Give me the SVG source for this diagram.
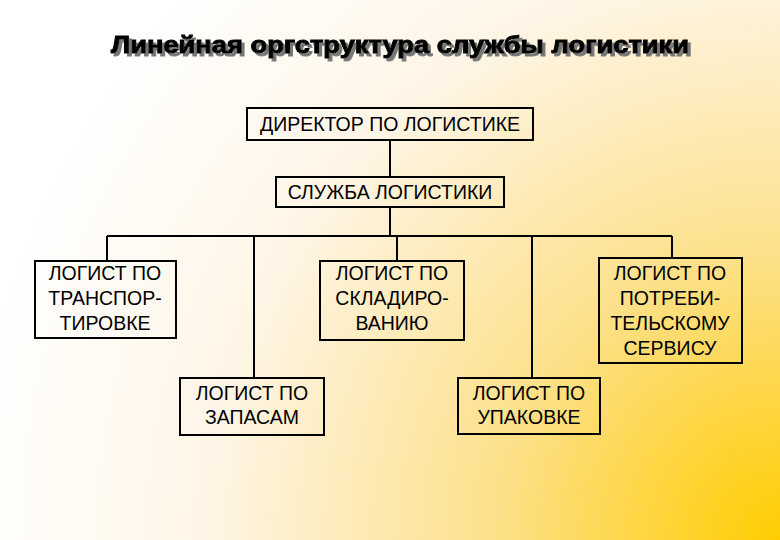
<svg xmlns="http://www.w3.org/2000/svg" width="780" height="540" viewBox="0 0 780 540">
<defs>
<radialGradient id="bg" cx="780" cy="540" r="820" gradientUnits="userSpaceOnUse">
<stop offset="0" stop-color="#FFCC00"/>
<stop offset="0.35" stop-color="#FCE08A"/>
<stop offset="0.7" stop-color="#FEF5E6"/>
<stop offset="1" stop-color="#FFFFFF"/>
</radialGradient>
<filter id="sh" x="-5%" y="-30%" width="110%" height="160%">
<feFlood flood-color="#777"/>
<feComposite in2="SourceAlpha" operator="in"/>
<feOffset dx="3" dy="3" result="s"/>
<feMerge><feMergeNode in="s"/><feMergeNode in="SourceGraphic"/></feMerge>
</filter>
<style>
.b{fill:none;stroke:#000;stroke-width:2}
.t{font-family:"Liberation Sans",Arial,sans-serif;font-size:19.5px;text-anchor:middle;fill:#000}
.c{fill:none;stroke:#000;stroke-width:2}
.h{font-family:"Liberation Sans",Arial,sans-serif;font-size:24px;font-weight:bold;text-anchor:middle;stroke:#000;stroke-width:1}
</style>
</defs>
<rect width="780" height="540" fill="url(#bg)"/>
<text class="h" x="400" y="53" fill="#000" filter="url(#sh)" textLength="578" lengthAdjust="spacingAndGlyphs">Линейная оргструктура службы логистики</text>
<g id="connectors">
<path class="c" d="M390 140V177M390 207V236M107 236H672M107 236V261M254 236V378M397 236V261M532 236V378M672 236V258"/>
</g>
<g id="director"><rect class="b" x="247" y="108" width="286" height="32"/><text class="t" x="390" y="131">ДИРЕКТОР ПО ЛОГИСТИКЕ</text></g>
<g id="service"><rect class="b" x="276" y="177" width="228" height="30"/><text class="t" x="390" y="199">СЛУЖБА ЛОГИСТИКИ</text></g>
<g id="transport"><rect class="b" x="35" y="261" width="141" height="77"/><text class="t" x="105" y="280">ЛОГИСТ ПО</text><text class="t" x="105" y="305">ТРАНСПОР-</text><text class="t" x="105" y="330">ТИРОВКЕ</text></g>
<g id="warehouse"><rect class="b" x="320" y="261" width="144" height="79"/><text class="t" x="392" y="280">ЛОГИСТ ПО</text><text class="t" x="392" y="305">СКЛАДИРО-</text><text class="t" x="392" y="330">ВАНИЮ</text></g>
<g id="customer"><rect class="b" x="599" y="258" width="143" height="105"/><text class="t" x="670" y="280">ЛОГИСТ ПО</text><text class="t" x="670" y="305">ПОТРЕБИ-</text><text class="t" x="670" y="330">ТЕЛЬСКОМУ</text><text class="t" x="670" y="355">СЕРВИСУ</text></g>
<g id="stock"><rect class="b" x="180" y="378" width="144" height="57"/><text class="t" x="252" y="400">ЛОГИСТ ПО</text><text class="t" x="252" y="424">ЗАПАСАМ</text></g>
<g id="packing"><rect class="b" x="458" y="378" width="142" height="56"/><text class="t" x="529" y="400">ЛОГИСТ ПО</text><text class="t" x="529" y="424">УПАКОВКЕ</text></g>
</svg>
